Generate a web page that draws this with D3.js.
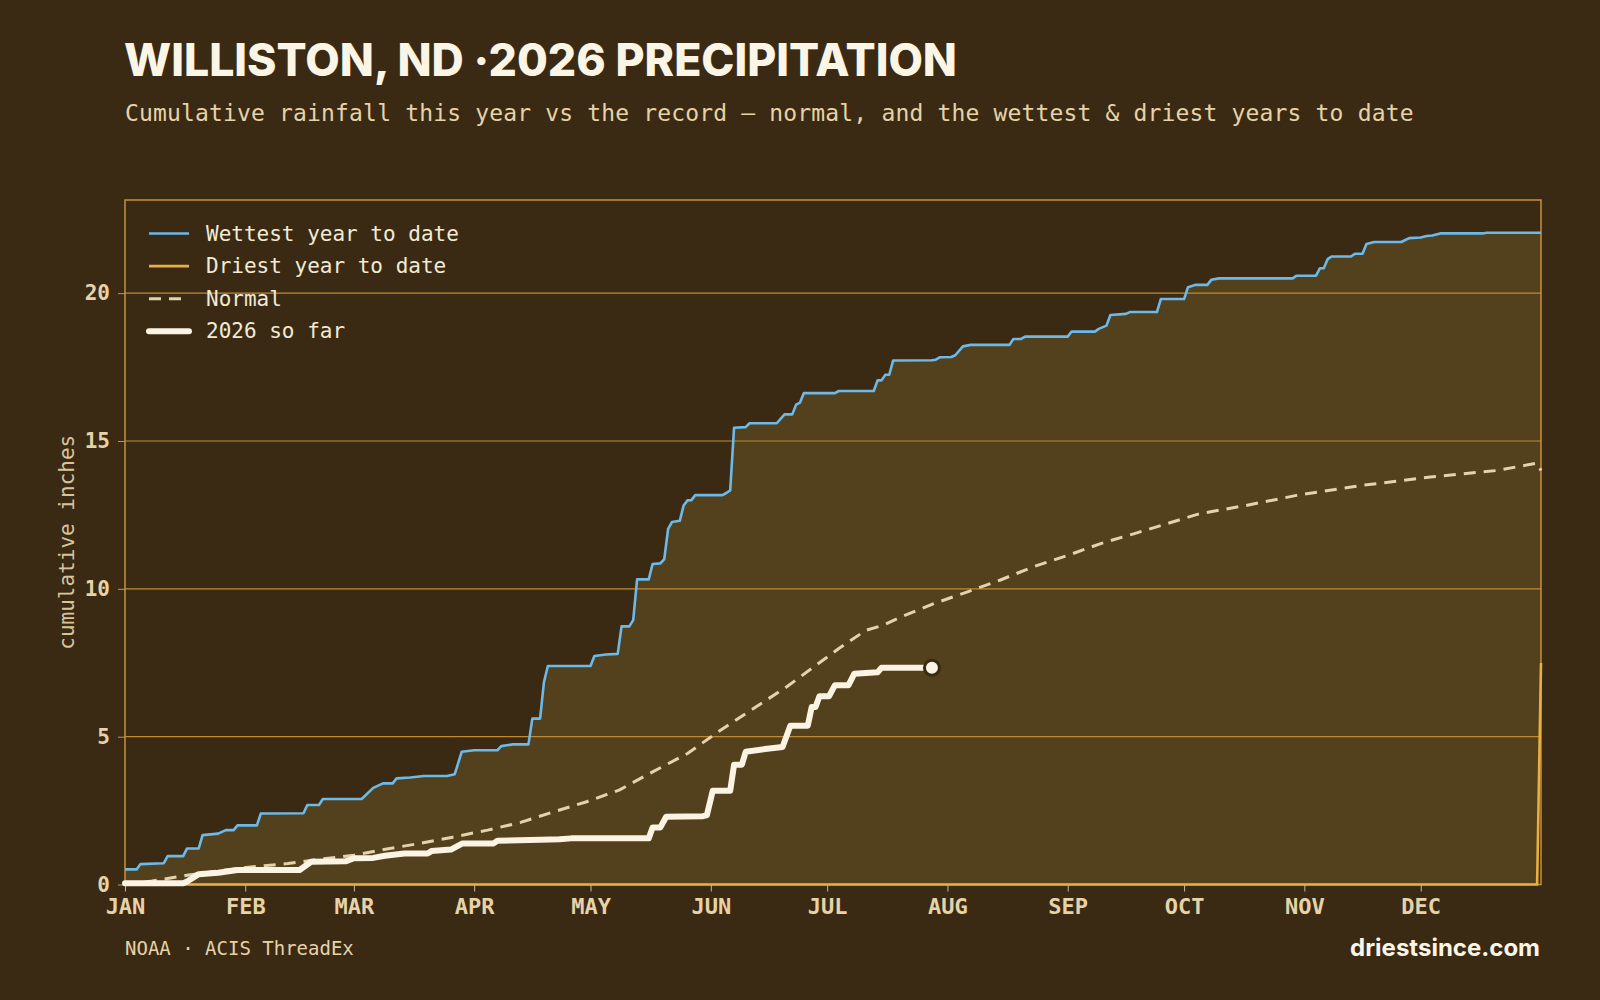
<!DOCTYPE html>
<html>
<head>
<meta charset="utf-8">
<script src="https://cdn.jsdelivr.net/npm/d3@7"></script>
<style>
  html, body { margin: 0; padding: 0; background: #3a2a14; }
  svg { display: block; }
</style>
</head>
<body>
<div id="chart"></div>
<script>
// day-of-year (0 = Jan 1) and cumulative inches
const wettestDays = [0, 3, 4, 10, 11, 15, 16, 19, 20, 24, 26, 28, 29, 34, 35, 46, 47, 50, 51, 61, 64, 66.5, 69, 70, 73.5, 77, 83, 85, 86.8, 90, 96, 97, 100, 104, 105, 107, 108, 109, 120, 121, 124, 127, 128, 130, 131, 132, 135, 136, 138, 139, 140, 141, 143, 144, 145, 146, 147, 154, 155, 156, 157, 160, 161, 168, 170, 172, 173, 174, 175, 183, 184, 193, 194, 195, 196, 197, 198, 208, 209, 210, 213, 214, 216, 218, 228, 229, 231, 232, 243, 244, 250, 251, 253, 254, 258, 259, 266, 267, 273, 274, 276, 279, 280, 282, 301, 302, 307, 308, 309, 310, 311, 316, 317, 319, 320, 322, 329, 331, 334, 335.5, 337, 339, 350, 351, 365];
const wettestVals = [0.51, 0.51, 0.69, 0.72, 0.96, 0.96, 1.22, 1.22, 1.67, 1.72, 1.84, 1.84, 2.0, 2.0, 2.40, 2.41, 2.69, 2.69, 2.89, 2.89, 3.27, 3.42, 3.42, 3.59, 3.62, 3.67, 3.67, 3.73, 4.49, 4.54, 4.54, 4.68, 4.74, 4.74, 5.61, 5.61, 6.85, 7.39, 7.39, 7.73, 7.78, 7.80, 8.73, 8.73, 8.94, 10.32, 10.32, 10.84, 10.86, 11.0, 12.03, 12.26, 12.3, 12.82, 12.99, 13.0, 13.17, 13.17, 13.24, 13.33, 15.45, 15.47, 15.6, 15.6, 15.9, 15.9, 16.23, 16.3, 16.62, 16.62, 16.69, 16.69, 17.05, 17.05, 17.24, 17.24, 17.72, 17.73, 17.75, 17.83, 17.84, 17.9, 18.2, 18.25, 18.25, 18.45, 18.45, 18.53, 18.53, 18.7, 18.7, 18.79, 18.9, 19.26, 19.3, 19.36, 19.36, 19.8, 19.8, 20.2, 20.28, 20.28, 20.45, 20.5, 20.5, 20.59, 20.59, 20.84, 20.84, 21.15, 21.24, 21.24, 21.33, 21.33, 21.66, 21.73, 21.73, 21.86, 21.88, 21.93, 21.95, 22.02, 22.02, 22.04, 22.04];

const driestDays = [0, 364, 365];
const driestVals = [0, 0, 7.49];

const normalDays = [0, 7, 16, 24.5, 33, 42, 50, 59, 67.5, 76, 84.5, 93.5, 102, 110.5, 119, 127.5, 136, 145, 153.5, 162, 170.5, 179, 184, 191, 195.5, 200, 208.5, 217, 225.5, 234, 243, 251.5, 260, 268.5, 277, 289, 302, 319, 336.5, 353.5, 364, 365];
const normalVals = [0, 0.12, 0.31, 0.47, 0.6, 0.71, 0.85, 0.99, 1.2, 1.39, 1.6, 1.84, 2.1, 2.46, 2.8, 3.2, 3.81, 4.43, 5.22, 5.95, 6.68, 7.5, 7.98, 8.6, 8.77, 9.05, 9.5, 9.89, 10.29, 10.74, 11.13, 11.53, 11.86, 12.2, 12.54, 12.82, 13.16, 13.5, 13.78, 14.0, 14.25, 14.0];

const thisYearDays = [0, 15, 16, 19, 24, 29, 45, 48, 57, 59, 64, 67, 72, 78, 79, 84, 87, 95, 96, 107, 112, 115, 135, 136, 138, 139.5, 149, 150, 151.5, 156, 157, 159, 160, 165, 169.5, 171.5, 176, 177, 178, 179, 181.5, 183, 186.5, 188, 194, 195, 208];
const thisYearVals = [0.04, 0.04, 0.1, 0.35, 0.40, 0.49, 0.49, 0.77, 0.79, 0.89, 0.9, 0.97, 1.05, 1.05, 1.13, 1.18, 1.39, 1.39, 1.48, 1.51, 1.53, 1.56, 1.56, 1.93, 1.93, 2.29, 2.31, 2.35, 3.17, 3.17, 4.05, 4.05, 4.49, 4.58, 4.65, 5.37, 5.37, 6.0, 6.0, 6.37, 6.37, 6.74, 6.74, 7.13, 7.18, 7.33, 7.33];

const yTicks = [0, 5, 10, 15, 20];
const legendLabels = ['Wettest year to date', 'Driest year to date', 'Normal', '2026 so far'];

const W = 1600, H = 1000;
const m = { top: 200, right: 59, bottom: 115.5, left: 125 };
const yMax = 23.15;

const start = new Date(Date.UTC(2026, 0, 1));
const toDate = d => new Date(start.getTime() + d * 864e5);
const pts = (days, vals) => days.map((d, i) => ({ date: toDate(d), v: vals[i] }));

const wettest = pts(wettestDays, wettestVals);
const driest = pts(driestDays, driestVals);
const normal = pts(normalDays, normalVals);
const thisYear = pts(thisYearDays, thisYearVals);

const svg = d3.select('#chart').append('svg')
  .attr('width', W).attr('height', H)
  .style('font-family', '"DejaVu Sans Mono", monospace');

svg.append('rect').attr('width', W).attr('height', H).attr('fill', '#3a2a14');

const x = d3.scaleUtc()
  .domain([start, new Date(Date.UTC(2027, 0, 1))])
  .range([m.left, W - m.right]);
const y = d3.scaleLinear().domain([0, yMax]).range([H - m.bottom, m.top]);

const line = d3.line().x(d => x(d.date)).y(d => y(d.v));

// -- band between wettest and driest
svg.append('path')
  .attr('d', line([...wettest, ...driest.slice().reverse()]) + 'Z')
  .attr('fill', '#53401d');

// -- grid
svg.append('g')
  .selectAll('line')
  .data(yTicks.filter(t => t > 0))
  .join('line')
  .attr('x1', m.left).attr('x2', W - m.right)
  .attr('y1', d => y(d)).attr('y2', d => y(d))
  .attr('stroke', '#bf8a32').attr('stroke-width', 1.2);

// -- frame
svg.append('rect')
  .attr('x', m.left).attr('y', m.top)
  .attr('width', W - m.left - m.right).attr('height', H - m.top - m.bottom)
  .attr('fill', 'none').attr('stroke', '#c8913a').attr('stroke-width', 1.5);

// -- y axis
const yAxis = svg.append('g')
  .attr('transform', `translate(${m.left},0)`)
  .call(d3.axisLeft(y).tickValues(yTicks).tickSize(7).tickPadding(8));
yAxis.select('.domain').remove();
yAxis.selectAll('line').attr('stroke', '#a89a80');
yAxis.selectAll('text')
  .attr('fill', '#e6d3a8').attr('font-size', 21).attr('font-weight', 'bold')
  .style('font-family', '"DejaVu Sans Mono", monospace');

// -- x axis
const xAxis = svg.append('g')
  .attr('transform', `translate(0,${H - m.bottom})`)
  .call(d3.axisBottom(x)
    .ticks(d3.utcMonth.every(1))
    .tickFormat(d => d3.utcFormat('%b')(d).toUpperCase())
    .tickSize(7).tickPadding(5));
xAxis.select('.domain').remove();
xAxis.selectAll('line').attr('stroke', '#c9bb9c');
xAxis.selectAll('text')
  .attr('fill', '#e6d3a8').attr('font-size', 22).attr('font-weight', 'bold')
  .attr('dy', '0.78em')
  .style('font-family', '"DejaVu Sans Mono", monospace');
xAxis.selectAll('.tick').filter(d => d >= new Date(Date.UTC(2027, 0, 1))).remove();

svg.append('text')
  .attr('transform', `translate(67,${(m.top + H - m.bottom) / 2}) rotate(-90)`)
  .attr('text-anchor', 'middle').attr('dominant-baseline', 'central')
  .attr('fill', '#d9c49a').attr('font-size', 21)
  .text('cumulative inches');

// -- series
svg.append('path').datum(normal)
  .attr('d', line).attr('fill', 'none')
  .attr('stroke', '#e2d3ac').attr('stroke-width', 3)
  .attr('stroke-dasharray', '12,8');

svg.append('path').datum(wettest)
  .attr('d', line).attr('fill', 'none')
  .attr('stroke', '#6db9e8').attr('stroke-width', 2.6)
  .attr('stroke-linejoin', 'round');

svg.append('path').datum(driest)
  .attr('d', line).attr('fill', 'none')
  .attr('stroke', '#e8b040').attr('stroke-width', 2.6);

svg.append('path').datum(thisYear)
  .attr('d', line).attr('fill', 'none')
  .attr('stroke', '#fbf4e4').attr('stroke-width', 6)
  .attr('stroke-linejoin', 'round').attr('stroke-linecap', 'round');

const last = thisYear[thisYear.length - 1];
svg.append('circle')
  .attr('cx', x(last.date)).attr('cy', y(last.v)).attr('r', 7.5)
  .attr('fill', '#fbf4e4').attr('stroke', '#3a2a14').attr('stroke-width', 3);

// -- legend
const legendStyles = [
  { stroke: '#6db9e8', width: 2.6, dash: null },
  { stroke: '#e8b040', width: 2.6, dash: null },
  { stroke: '#e2d3ac', width: 3, dash: '12,8' },
  { stroke: '#fbf4e4', width: 6, dash: null }
];
const legend = svg.append('g')
  .selectAll('g')
  .data(legendLabels)
  .join('g')
  .attr('transform', (d, i) => `translate(0,${233.5 + i * 32.6})`);
legend.append('line')
  .attr('x1', 149).attr('x2', 189)
  .attr('stroke', (d, i) => legendStyles[i].stroke)
  .attr('stroke-width', (d, i) => legendStyles[i].width)
  .attr('stroke-dasharray', (d, i) => legendStyles[i].dash)
  .attr('stroke-linecap', (d, i) => i === 3 ? 'round' : 'butt');
legend.append('text')
  .attr('x', 206).attr('dominant-baseline', 'central')
  .attr('fill', '#f3ead5').attr('font-size', 21)
  .text(d => d);

// -- titles
svg.append('text')
  .attr('x', 124).attr('y', 76)
  .attr('fill', '#fbf5e6').attr('font-size', 44.6).attr('font-weight', 800)
  .style('font-family', 'Inter, sans-serif')
  .text('WILLISTON, ND \u00b72026 PRECIPITATION');

svg.append('text')
  .attr('x', 125).attr('y', 121)
  .attr('fill', '#e6d3a8').attr('font-size', 23)
  .attr('letter-spacing', 0.16)
  .text('Cumulative rainfall this year vs the record \u2014 normal, and the wettest & driest years to date');

svg.append('text')
  .attr('x', 125).attr('y', 955)
  .attr('fill', '#e6d3a8').attr('font-size', 19)
  .text('NOAA \u00b7 ACIS ThreadEx');

svg.append('text')
  .attr('x', 1540).attr('y', 956)
  .attr('text-anchor', 'end')
  .attr('fill', '#fbf5e6').attr('font-size', 24).attr('font-weight', 700)
  .style('font-family', 'Inter, sans-serif')
  .text('driestsince.com');
</script>
</body>
</html>
